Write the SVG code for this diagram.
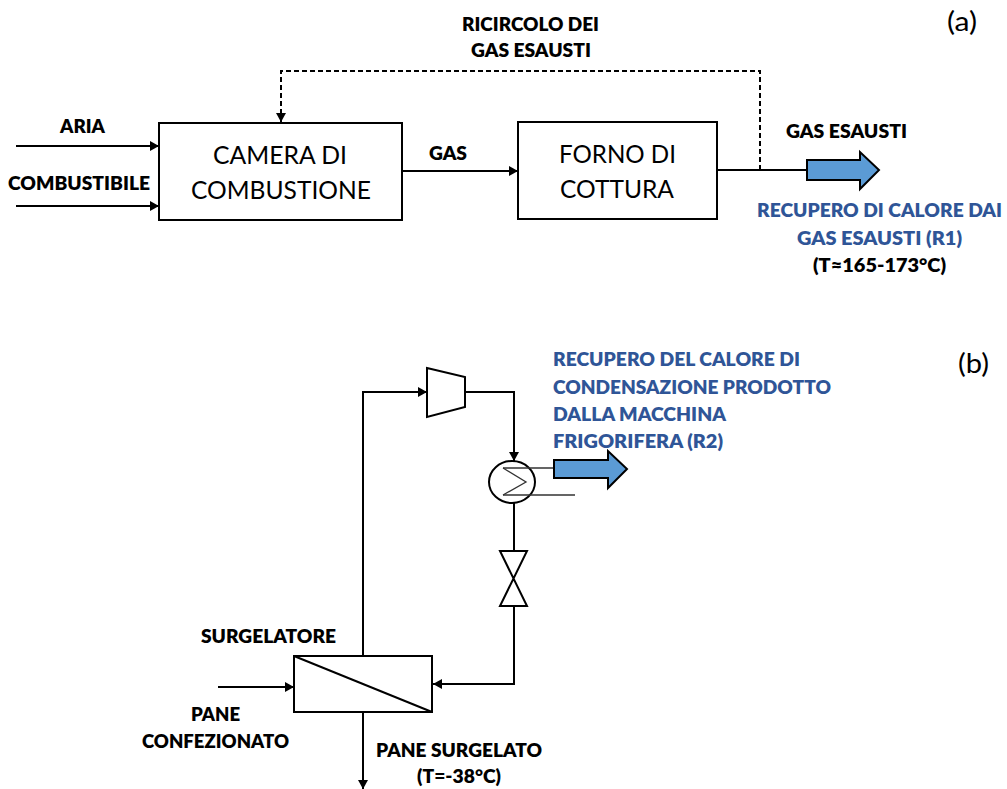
<svg xmlns="http://www.w3.org/2000/svg" width="1007" height="789" viewBox="0 0 1007 789">
<style>
text{font-family:Lato,"Open Sans","Liberation Sans",sans-serif;fill:#000}
.b{font-weight:800;font-size:19px}
.blue{font-weight:800;font-size:19px;fill:#2f5597}
.big{font-size:25px}
.tag{font-size:27px}
.box{fill:#fff;stroke:#000;stroke-width:2}
.ln{fill:none;stroke:#000;stroke-width:2}
.dash{fill:none;stroke:#000;stroke-width:2;stroke-dasharray:5 3}
.thin{fill:none;stroke:#333;stroke-width:1.3}
.arr{fill:#5b9bd5;stroke:#000;stroke-width:2}
</style>
<defs>
<marker id="h" markerUnits="userSpaceOnUse" markerWidth="9" markerHeight="10" refX="9" refY="5" orient="auto"><path d="M0 0L9 5L0 10Z" fill="#000"/></marker>
</defs>
<g id="connectors">
<path class="ln" d="M16 146H159" marker-end="url(#h)"/>
<path class="ln" d="M16 206H159" marker-end="url(#h)"/>
<path class="ln" d="M402 171H518" marker-end="url(#h)"/>
<path class="ln" d="M718 170H807"/>
<path class="dash" d="M760 170V71H281V122" marker-end="url(#h)"/>
<path class="ln" d="M363 656V392H427" marker-end="url(#h)"/>
<path class="ln" d="M465 392H514V461" marker-end="url(#h)"/>
<path class="ln" d="M514 503V551"/>
<path class="ln" d="M514 606V684H433" marker-end="url(#h)"/>
<path class="ln" d="M218 687H294" marker-end="url(#h)"/>
<path class="ln" d="M363 712V789" marker-end="url(#h)"/>
</g>
<g id="camera"><rect class="box" x="159" y="123" width="243" height="97"/><text class="big" x="213" y="164" textLength="134" lengthAdjust="spacingAndGlyphs">CAMERA DI</text><text class="big" x="191" y="199" textLength="180" lengthAdjust="spacingAndGlyphs">COMBUSTIONE</text></g>
<g id="forno"><rect class="box" x="518" y="122" width="199" height="97"/><text class="big" x="559" y="163" textLength="117" lengthAdjust="spacingAndGlyphs">FORNO DI</text><text class="big" x="560" y="198" textLength="114" lengthAdjust="spacingAndGlyphs">COTTURA</text></g>
<g id="compressore"><path class="box" d="M427 368L465 377V407L427 417Z"/></g>
<g id="condensatore"><ellipse class="box" cx="512" cy="482" rx="23" ry="21"/><path class="thin" d="M503 468H554M503 495H575"/><path class="thin" d="M503 468L526 482L503 495"/></g>
<g id="valvola"><path class="box" d="M500 551H527L500 606H527Z"/></g>
<g id="surgelatore"><rect class="box" x="294" y="656" width="138" height="56"/><path class="ln" d="M294 656L432 712"/></g>
<g id="freccia-r1"><path class="arr" d="M807 160H860V152L879 170L860 189V180H807Z"/></g>
<g id="freccia-r2"><path class="arr" d="M554 460H608V451L627 469L608 488V478H554Z"/></g>
<g id="labels">
<text class="tag" x="947" y="31" textLength="30" lengthAdjust="spacingAndGlyphs">(a)</text>
<text class="tag" x="958" y="373" textLength="31" lengthAdjust="spacingAndGlyphs">(b)</text>
<text class="b" x="462" y="31" textLength="137" lengthAdjust="spacingAndGlyphs">RICIRCOLO DEI</text>
<text class="b" x="471" y="57" textLength="120" lengthAdjust="spacingAndGlyphs">GAS ESAUSTI</text>
<text class="b" x="60" y="133" textLength="45" lengthAdjust="spacingAndGlyphs">ARIA</text>
<text class="b" x="8" y="190" textLength="142" lengthAdjust="spacingAndGlyphs">COMBUSTIBILE</text>
<text class="b" x="429" y="160" textLength="38" lengthAdjust="spacingAndGlyphs">GAS</text>
<text class="b" x="786" y="138" textLength="121" lengthAdjust="spacingAndGlyphs">GAS ESAUSTI</text>
<text class="blue" x="757" y="217" textLength="245" lengthAdjust="spacingAndGlyphs">RECUPERO DI CALORE DAI</text>
<text class="blue" x="797" y="245" textLength="165" lengthAdjust="spacingAndGlyphs">GAS ESAUSTI (R1)</text>
<text class="b" x="813" y="272" textLength="133" lengthAdjust="spacingAndGlyphs">(T≈165-173°C)</text>
<text class="blue" x="553" y="366" textLength="247" lengthAdjust="spacingAndGlyphs">RECUPERO DEL CALORE DI</text>
<text class="blue" x="553" y="394" textLength="278" lengthAdjust="spacingAndGlyphs">CONDENSAZIONE PRODOTTO</text>
<text class="blue" x="553" y="421" textLength="173" lengthAdjust="spacingAndGlyphs">DALLA MACCHINA</text>
<text class="blue" x="553" y="448" textLength="170" lengthAdjust="spacingAndGlyphs">FRIGORIFERA (R2)</text>
<text class="b" x="201" y="643" textLength="135" lengthAdjust="spacingAndGlyphs">SURGELATORE</text>
<text class="b" x="191" y="721" textLength="49" lengthAdjust="spacingAndGlyphs">PANE</text>
<text class="b" x="142" y="748" textLength="147" lengthAdjust="spacingAndGlyphs">CONFEZIONATO</text>
<text class="b" x="376" y="757" textLength="166" lengthAdjust="spacingAndGlyphs">PANE SURGELATO</text>
<text class="b" x="417" y="783" textLength="84" lengthAdjust="spacingAndGlyphs">(T=-38°C)</text>
</g>
</svg>
